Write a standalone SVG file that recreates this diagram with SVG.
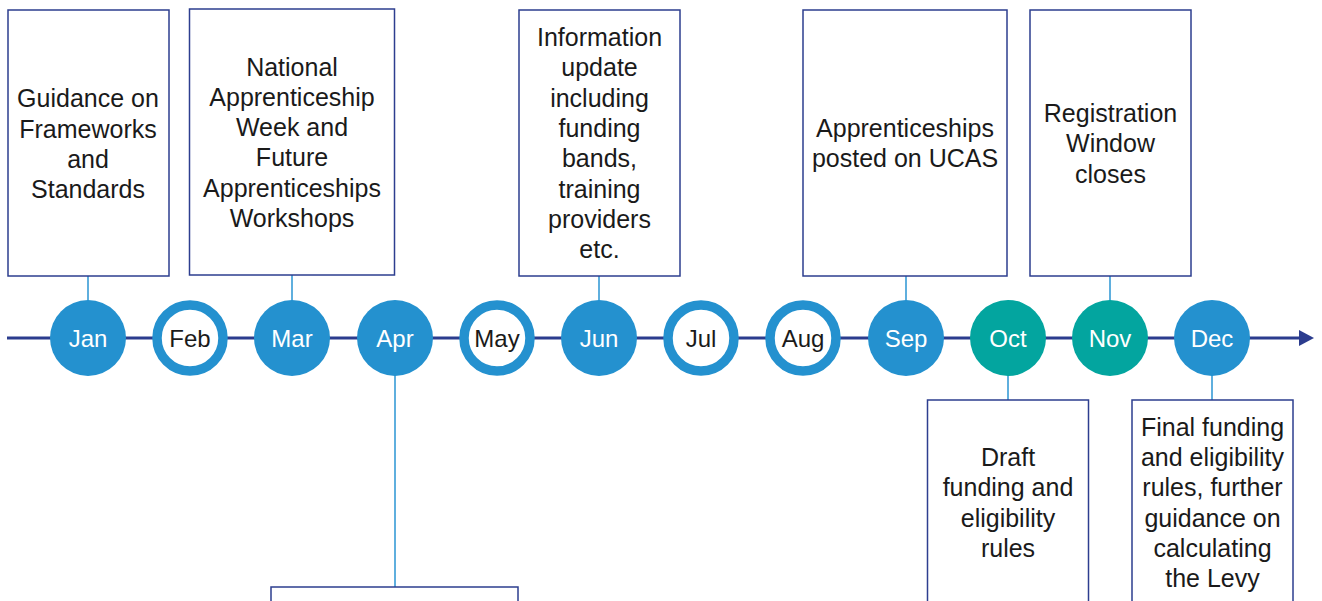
<svg xmlns="http://www.w3.org/2000/svg" width="1322" height="601" viewBox="0 0 1322 601">
<style>
.box{fill:#fff;stroke:#2D3E8F;stroke-width:1.5}
.conn{stroke:#2A95D3;stroke-width:1.5;fill:none}
.t{font-family:"Liberation Sans",Arial,sans-serif;font-size:25px;fill:#1a1a1a;text-anchor:middle}
.m{font-family:"Liberation Sans",Arial,sans-serif;font-size:24px;text-anchor:middle}
.solid{fill:#2491CF}
.teal{fill:#03A59F}
.ring{fill:#fff;stroke:#2491CF;stroke-width:9.5}
.w{fill:#fff}
.k{fill:#1a1a1a}
</style>
<defs>
<marker id="ah" markerWidth="16" markerHeight="16" refX="1" refY="8" orient="auto" markerUnits="userSpaceOnUse">
<path d="M1,0 L16,8 L1,16 Z" fill="#2B3C8E"/>
</marker>
</defs>
<g id="connectors">
<line x1="7" y1="338" x2="1299" y2="338" stroke="#2B3C8E" stroke-width="3" marker-end="url(#ah)"/>
<line class="conn" x1="88" y1="276" x2="88" y2="301"/>
<line class="conn" x1="292" y1="275" x2="292" y2="301"/>
<line class="conn" x1="599" y1="276" x2="599" y2="301"/>
<line class="conn" x1="906" y1="276" x2="906" y2="301"/>
<line class="conn" x1="1110" y1="276" x2="1110" y2="301"/>
<line class="conn" x1="395" y1="375" x2="395" y2="587"/>
<line class="conn" x1="1008" y1="375" x2="1008" y2="400"/>
<line class="conn" x1="1212" y1="375" x2="1212" y2="400"/>
</g>
<g id="box-jan">
<rect class="box" x="8" y="10" width="161" height="266"/>
<text class="t"><tspan x="88" y="107">Guidance on</tspan><tspan x="88" y="137.5">Frameworks</tspan><tspan x="88" y="167.5">and</tspan><tspan x="88" y="198">Standards</tspan></text>
</g>
<g id="box-mar">
<rect class="box" x="189.5" y="9" width="205" height="266"/>
<text class="t"><tspan x="292" y="75.5">National</tspan><tspan x="292" y="105.8">Apprenticeship</tspan><tspan x="292" y="136">Week and</tspan><tspan x="292" y="166.3">Future</tspan><tspan x="292" y="196.6">Apprenticeships</tspan><tspan x="292" y="227">Workshops</tspan></text>
</g>
<g id="box-jun">
<rect class="box" x="519" y="10" width="161" height="266"/>
<text class="t"><tspan x="599.5" y="46">Information</tspan><tspan x="599.5" y="76.3">update</tspan><tspan x="599.5" y="106.6">including</tspan><tspan x="599.5" y="137">funding</tspan><tspan x="599.5" y="167.3">bands,</tspan><tspan x="599.5" y="197.6">training</tspan><tspan x="599.5" y="228">providers</tspan><tspan x="599.5" y="258.3">etc.</tspan></text>
</g>
<g id="box-sep">
<rect class="box" x="803" y="10" width="204" height="266"/>
<text class="t"><tspan x="905" y="137">Apprenticeships</tspan><tspan x="905" y="167.3">posted on UCAS</tspan></text>
</g>
<g id="box-nov">
<rect class="box" x="1030" y="10" width="161" height="266"/>
<text class="t"><tspan x="1110.5" y="122">Registration</tspan><tspan x="1110.5" y="152.3">Window</tspan><tspan x="1110.5" y="182.6">closes</tspan></text>
</g>
<g id="box-apr">
<rect class="box" x="271" y="587" width="247" height="40"/>
</g>
<g id="box-oct">
<rect class="box" x="927.5" y="400" width="161" height="230"/>
<text class="t"><tspan x="1008" y="466">Draft</tspan><tspan x="1008" y="496.3">funding and</tspan><tspan x="1008" y="526.6">eligibility</tspan><tspan x="1008" y="557">rules</tspan></text>
</g>
<g id="box-dec">
<rect class="box" x="1132" y="400" width="161" height="230"/>
<text class="t"><tspan x="1212.5" y="435.6">Final funding</tspan><tspan x="1212.5" y="466">and eligibility</tspan><tspan x="1212.5" y="496.3">rules, further</tspan><tspan x="1212.5" y="526.6">guidance on</tspan><tspan x="1212.5" y="557">calculating</tspan><tspan x="1212.5" y="587.3">the Levy</tspan></text>
</g>
<g id="m-jan"><circle class="solid" cx="88" cy="338" r="38"/><text class="m w" x="88" y="346.5">Jan</text></g>
<g id="m-feb"><circle class="ring" cx="190" cy="338" r="33"/><text class="m k" x="190" y="346.5">Feb</text></g>
<g id="m-mar"><circle class="solid" cx="292" cy="338" r="38"/><text class="m w" x="292" y="346.5">Mar</text></g>
<g id="m-apr"><circle class="solid" cx="395" cy="338" r="38"/><text class="m w" x="395" y="346.5">Apr</text></g>
<g id="m-may"><circle class="ring" cx="497" cy="338" r="33"/><text class="m k" x="497" y="346.5">May</text></g>
<g id="m-jun"><circle class="solid" cx="599" cy="338" r="38"/><text class="m w" x="599" y="346.5">Jun</text></g>
<g id="m-jul"><circle class="ring" cx="701" cy="338" r="33"/><text class="m k" x="701" y="346.5">Jul</text></g>
<g id="m-aug"><circle class="ring" cx="803" cy="338" r="33"/><text class="m k" x="803" y="346.5">Aug</text></g>
<g id="m-sep"><circle class="solid" cx="906" cy="338" r="38"/><text class="m w" x="906" y="346.5">Sep</text></g>
<g id="m-oct"><circle class="teal" cx="1008" cy="338" r="38"/><text class="m w" x="1008" y="346.5">Oct</text></g>
<g id="m-nov"><circle class="teal" cx="1110" cy="338" r="38"/><text class="m w" x="1110" y="346.5">Nov</text></g>
<g id="m-dec"><circle class="solid" cx="1212" cy="338" r="38"/><text class="m w" x="1212" y="346.5">Dec</text></g>
</svg>
